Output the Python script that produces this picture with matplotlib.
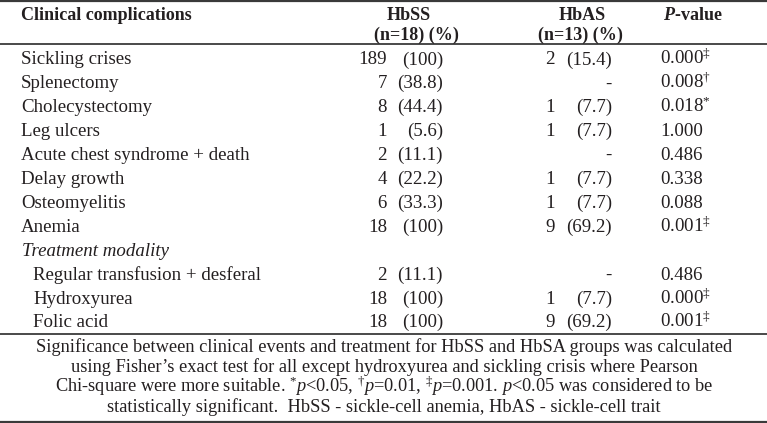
import matplotlib.pyplot as plt

plt.rcParams['font.family'] = ['Liberation Serif', 'DejaVu Serif']
plt.rcParams['mathtext.fontset'] = 'custom'
plt.rcParams['mathtext.rm'] = 'Liberation Serif'
plt.rcParams['mathtext.it'] = 'Liberation Serif:italic'
plt.rcParams['mathtext.bf'] = 'Liberation Serif:bold'
plt.rcParams['mathtext.bfit'] = 'Liberation Serif:italic:bold'

# Table contents
rows = ['Sickling crises', 'Splenectomy', 'Cholecystectomy', 'Leg ulcers',
        'Acute chest syndrome + death', 'Delay growth', 'Osteomyelitis', 'Anemia',
        'Treatment modality',
        'Regular transfusion + desferal', 'Hydroxyurea', 'Folic acid']
hbss_n = ['189', '7', '8', '1', '2', '4', '6', '18', '', '2', '18', '18']
hbss_pct = ['(100)', '(38.8)', '(44.4)', '(5.6)', '(11.1)', '(22.2)', '(33.3)', '(100)',
            '', '(11.1)', '(100)', '(100)']
hbas_n = ['2', '', '1', '1', '', '1', '1', '9', '', '', '1', '9']
hbas_pct = ['(15.4)', '-', '(7.7)', '(7.7)', '-', '(7.7)', '(7.7)', '(69.2)',
            '', '-', '(7.7)', '(69.2)']
pvals = [r'0.000$^{\ddagger}$', r'0.008$^{\dagger}$', r'0.018$^{*}$', '1.000', '0.486',
         '0.338', '0.088', r'0.001$^{\ddagger}$', '', '0.486',
         r'0.000$^{\ddagger}$', r'0.001$^{\ddagger}$']
footnote = [
    'Significance between clinical events and treatment for HbSS and HbSA groups was calculated',
    'using Fisher\u2019s exact test for all except hydroxyurea and sickling crisis where Pearson',
    r'Chi-square were more suitable. $^{*}\mathit{p}$<0.05, $^{\dagger}\mathit{p}$=0.01, '
    r'$^{\ddagger}\mathit{p}$=0.001. $\mathit{p}$<0.05 was considered to be',
    'statistically significant.  HbSS - sickle-cell anemia, HbAS - sickle-cell trait',
]

W, H = 767, 423
fig = plt.figure(figsize=(W / 100, H / 100), dpi=100)
ax = fig.add_axes([0, 0, 1, 1])
ax.set_xlim(0, W)
ax.set_ylim(H, 0)
ax.axis('off')

tc = '#231f20'
fs = 13.6
hdr = dict(color=tc, fontsize=13, fontweight='bold', va='baseline')
body = dict(color=tc, fontsize=fs, va='baseline')

# header
ax.text(21, 20, 'Clinical complications', ha='left', **hdr)
ax.text(409, 20, 'HbSS', ha='center', **hdr)
ax.text(416, 40, '(n=18) (%)', ha='center', **hdr)
ax.text(582, 20, 'HbAS', ha='center', **hdr)
ax.text(580, 40, '(n=13) (%)', ha='center', **hdr)
ax.text(663, 20, r'$\mathbfit{P}$-value', ha='left', **hdr)

# rules
for y, lw in [(1, 1.6), (44.5, 1.3), (334, 1.3), (422, 1.6)]:
    ax.axhline(y, color='#3a3a3a', lw=lw)

y0, dy = 58.5 + 6, 23.9
for i, name in enumerate(rows):
    y = y0 + i * dy
    if name == 'Treatment modality':
        ax.text(22, y, name, ha='left', style='italic', **body)
        continue
    x = 33 if i > 8 else 21
    ax.text(x, y, name, ha='left', **body)
    ax.text(387, y, hbss_n[i], ha='right', **body)
    ax.text(443, y, hbss_pct[i], ha='right', **body)
    ax.text(555, y, hbas_n[i], ha='right', **body)
    ax.text(612, y, hbas_pct[i], ha='right', **body)
    ax.text(660, y, pvals[i], ha='left', **body)

for j, line in enumerate(footnote):
    ax.text(384, 352.5 + j * 19.8, line, ha='center', va='baseline', color=tc, fontsize=13.2)

fig.savefig('out.png', dpi=100)
